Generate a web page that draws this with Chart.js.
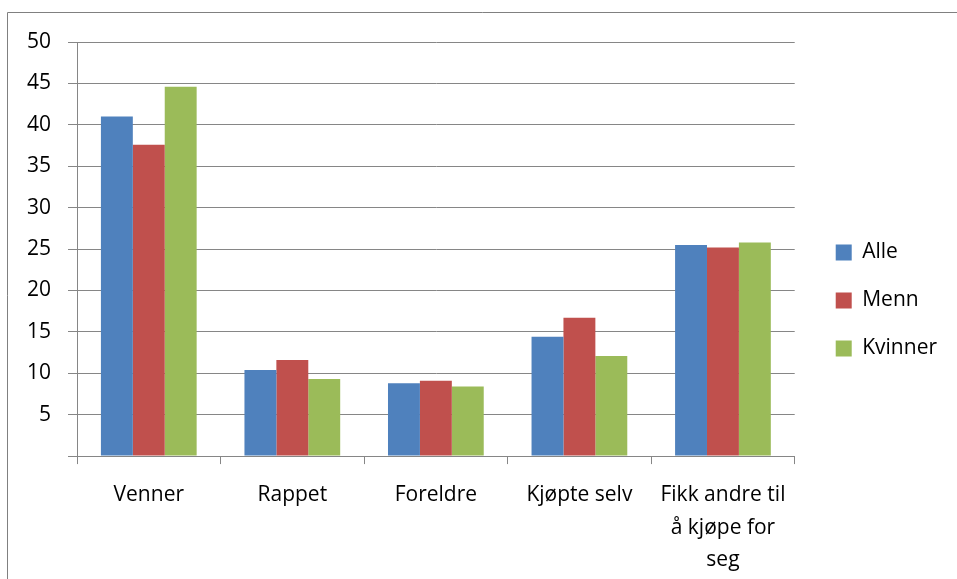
<!DOCTYPE html>
<html>
<head>
<meta charset="utf-8">
<script src="https://cdn.jsdelivr.net/npm/chart.js@4/dist/chart.umd.min.js"></script>
<style>
  html, body { margin: 0; padding: 0; background: #fff; }
  #wrap { width: 957px; height: 579px; }
</style>
</head>
<body>
<div id="wrap"><canvas id="chart" width="957" height="579"></canvas></div>
<script>
const categories = ["Venner", "Rappet", "Foreldre", "Kjøpte selv", ["Fikk andre til", "å kjøpe for", "seg"]];
const seriesNames = ["Alle", "Menn", "Kvinner"];
const alle = [41.0, 10.4, 8.8, 14.4, 25.5];
const menn = [37.6, 11.6, 9.1, 16.7, 25.2];
const kvinner = [44.6, 9.3, 8.4, 12.1, 25.8];
const yTicks = [0, 5, 10, 15, 20, 25, 30, 35, 40, 45, 50];

const colors = ["#4F81BD", "#C0504D", "#9BBB59"];
const gridColor = "#868686";
const fontFamily = "'Open Sans', sans-serif";

// outer frame of the embedded chart (only top and left edges are visible)
const framePlugin = {
  id: "frame",
  beforeDraw(chart) {
    const ctx = chart.ctx;
    ctx.save();
    ctx.strokeStyle = "#808080";
    ctx.lineWidth = 1;
    ctx.beginPath();
    ctx.moveTo(7.5, 579);
    ctx.lineTo(7.5, 12.5);
    ctx.lineTo(957, 12.5);
    ctx.stroke();
    ctx.restore();
  },
};

// nudge the legend block without touching the plot area
const legendShift = { dx: 14, dy: -16 };
const legendNudge = {
  id: "legendNudge",
  afterLayout(chart) {
    const lg = chart.legend;
    lg.left += legendShift.dx;
    lg.right += legendShift.dx;
    lg.top += legendShift.dy;
    lg.bottom += legendShift.dy;
  },
};

new Chart(document.getElementById("chart"), {
  type: "bar",
  data: {
    labels: categories,
    datasets: [alle, menn, kvinner].map((d, i) => ({
      label: seriesNames[i],
      data: d,
      backgroundColor: colors[i],
      borderWidth: 0,
      categoryPercentage: 0.667,
      barPercentage: 1.0,
    })),
  },
  options: {
    responsive: false,
    animation: false,
    layout: { padding: { top: 42, left: 10, right: 24, bottom: -12 } },
    plugins: {
      legend: {
        position: "right",
        align: "center",
        labels: {
          boxWidth: 16,
          boxHeight: 16,
          padding: 27,
          color: "#000",
          font: { family: fontFamily, size: 21 },
        },
      },
      tooltip: { enabled: false },
    },
    scales: {
      x: {
        grid: {
          offset: true,
          drawOnChartArea: false,
          drawTicks: true,
          tickLength: 8,
          color: gridColor,
        },
        border: { color: gridColor, width: 1 },
        ticks: {
          color: "#000",
          padding: 14,
          maxRotation: 0,
          autoSkip: false,
          font: { family: fontFamily, size: 21, lineHeight: 1.57 },
        },
      },
      y: {
        min: 0,
        max: 50,
        afterBuildTicks(axis) {
          axis.ticks = yTicks.map((v) => ({ value: v }));
        },
        grid: { color: gridColor, lineWidth: 1, tickLength: 9 },
        border: { color: gridColor, width: 1 },
        ticks: {
          color: "#000",
          padding: 17,
          font: { family: fontFamily, size: 21 },
          callback: (v) => (v === 0 ? "" : v),
        },
      },
    },
  },
  plugins: [framePlugin, legendNudge],
});
</script>
</body>
</html>
